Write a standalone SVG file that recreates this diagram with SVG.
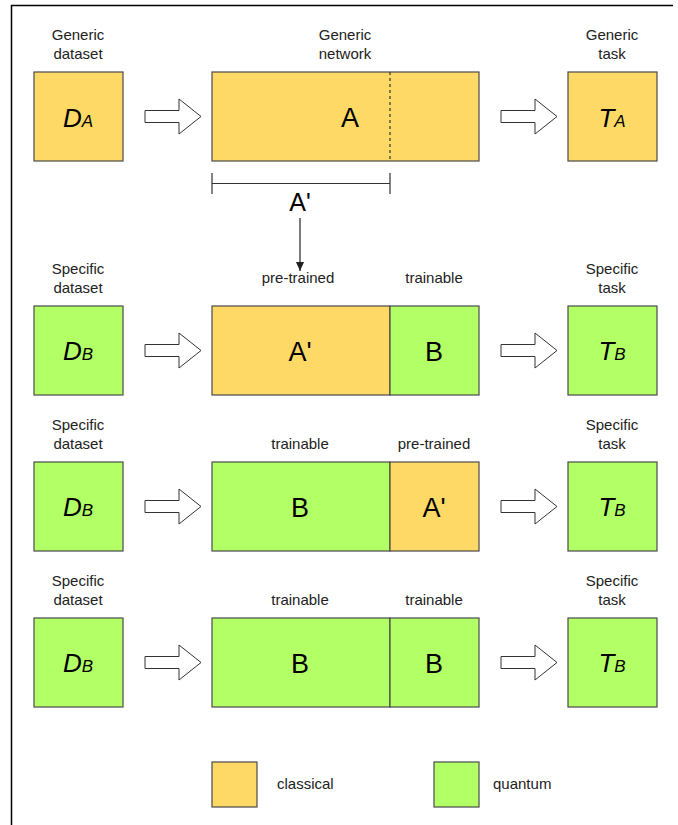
<svg xmlns="http://www.w3.org/2000/svg" width="678" height="825" viewBox="0 0 678 825">
<defs>
<style>
.cl{fill:#FFD966;stroke:#4a4a4a;stroke-width:1.2}
.qu{fill:#B3FF66;stroke:#4a4a4a;stroke-width:1.2}
.lbl{font-family:"Liberation Sans",Arial,sans-serif;font-size:15px;fill:#222;text-anchor:middle}
.big{font-family:"Liberation Sans",Arial,sans-serif;font-size:27px;fill:#000;text-anchor:middle}
.sym{font-family:"Liberation Sans",Arial,sans-serif;font-style:italic;font-size:26px;fill:#000;text-anchor:middle}
.sub{font-size:17px}
.blk{fill:#fff;stroke:#333;stroke-width:1}
.ln{stroke:#333;stroke-width:1.2;fill:none}
</style>
<path id="barrow" d="M0,-6 L34,-6 L34,-17.5 L56,0 L34,17.5 L34,6 L0,6 Z"/>
<marker id="ah" markerWidth="10" markerHeight="10" refX="9" refY="5" orient="auto" markerUnits="userSpaceOnUse">
<path d="M0,1 L9,5 L0,9 Z" fill="#222"/>
</marker>
</defs>
<rect width="678" height="825" fill="#fff"/>
<path d="M11.5,825 L11.5,5.5 L673,5.5" fill="none" stroke="#000" stroke-width="1.5"/>

<!-- Row 1 -->
<g id="DA">
<text class="lbl" x="78" y="40">Generic</text>
<text class="lbl" x="78" y="59">dataset</text>
<rect class="cl" x="34" y="72" width="89" height="89"/>
<text class="sym" x="78" y="127">D<tspan class="sub">A</tspan></text>
</g>
<g id="netA">
<text class="lbl" x="345" y="40">Generic</text>
<text class="lbl" x="345" y="59">network</text>
<rect class="cl" x="212" y="72" width="267" height="89"/>
<line x1="390" y1="72" x2="390" y2="161" stroke="#333" stroke-width="1.2" stroke-dasharray="3,3"/>
<text class="big" x="350" y="127">A</text>
</g>
<g id="TA">
<text class="lbl" x="612" y="40">Generic</text>
<text class="lbl" x="612" y="59">task</text>
<rect class="cl" x="568" y="72" width="89" height="89"/>
<text class="sym" x="612" y="127">T<tspan class="sub">A</tspan></text>
</g>
<g id="Aprime">
<path class="ln" d="M212,183.5 L390,183.5 M212,173 L212,194 M390,173 L390,194"/>
<text class="big" x="300" y="211" style="font-size:25px">A'</text>
</g>

<!-- Row 2 -->
<g id="DB1">
<text class="lbl" x="78" y="274">Specific</text>
<text class="lbl" x="78" y="293">dataset</text>
<rect class="qu" x="34" y="306" width="89" height="89"/>
<text class="sym" x="78" y="360">D<tspan class="sub">B</tspan></text>
</g>
<g id="net1">
<text class="lbl" x="298" y="283">pre-trained</text>
<text class="lbl" x="434" y="283">trainable</text>
<rect class="cl" x="212" y="306" width="178" height="89"/>
<rect class="qu" x="390" y="306" width="89" height="89"/>
<text class="big" x="300" y="361">A'</text>
<text class="big" x="434" y="361">B</text>
</g>
<g id="TB1">
<text class="lbl" x="612" y="274">Specific</text>
<text class="lbl" x="612" y="293">task</text>
<rect class="qu" x="568" y="306" width="89" height="89"/>
<text class="sym" x="612" y="360">T<tspan class="sub">B</tspan></text>
</g>

<!-- Row 3 -->
<g id="DB2">
<text class="lbl" x="78" y="430">Specific</text>
<text class="lbl" x="78" y="449">dataset</text>
<rect class="qu" x="34" y="462" width="89" height="89"/>
<text class="sym" x="78" y="516">D<tspan class="sub">B</tspan></text>
</g>
<g id="net2">
<text class="lbl" x="300" y="449">trainable</text>
<text class="lbl" x="434" y="449">pre-trained</text>
<rect class="qu" x="212" y="462" width="178" height="89"/>
<rect class="cl" x="390" y="462" width="89" height="89"/>
<text class="big" x="300" y="517">B</text>
<text class="big" x="434" y="517">A'</text>
</g>
<g id="TB2">
<text class="lbl" x="612" y="430">Specific</text>
<text class="lbl" x="612" y="449">task</text>
<rect class="qu" x="568" y="462" width="89" height="89"/>
<text class="sym" x="612" y="516">T<tspan class="sub">B</tspan></text>
</g>

<!-- Row 4 -->
<g id="DB3">
<text class="lbl" x="78" y="586">Specific</text>
<text class="lbl" x="78" y="605">dataset</text>
<rect class="qu" x="34" y="618" width="89" height="89"/>
<text class="sym" x="78" y="672">D<tspan class="sub">B</tspan></text>
</g>
<g id="net3">
<text class="lbl" x="300" y="605">trainable</text>
<text class="lbl" x="434" y="605">trainable</text>
<rect class="qu" x="212" y="618" width="178" height="89"/>
<rect class="qu" x="390" y="618" width="89" height="89"/>
<text class="big" x="300" y="673">B</text>
<text class="big" x="434" y="673">B</text>
</g>
<g id="TB3">
<text class="lbl" x="612" y="586">Specific</text>
<text class="lbl" x="612" y="605">task</text>
<rect class="qu" x="568" y="618" width="89" height="89"/>
<text class="sym" x="612" y="672">T<tspan class="sub">B</tspan></text>
</g>

<!-- Legend -->
<g id="legend-classical">
<rect class="cl" x="212" y="762" width="45" height="45"/>
<text class="lbl" x="277" y="789" style="text-anchor:start">classical</text>
</g>
<g id="legend-quantum">
<rect class="qu" x="434" y="762" width="45" height="45"/>
<text class="lbl" x="493" y="789" style="text-anchor:start">quantum</text>
</g>

<!-- Connectors -->
<g id="connectors">
<use href="#barrow" class="blk" x="145" y="116.5"/>
<use href="#barrow" class="blk" x="501" y="116.5"/>
<use href="#barrow" class="blk" x="145" y="350.5"/>
<use href="#barrow" class="blk" x="501" y="350.5"/>
<use href="#barrow" class="blk" x="145" y="506.5"/>
<use href="#barrow" class="blk" x="501" y="506.5"/>
<use href="#barrow" class="blk" x="145" y="662.5"/>
<use href="#barrow" class="blk" x="501" y="662.5"/>
<line x1="300" y1="218" x2="300" y2="271" stroke="#222" stroke-width="1.2" marker-end="url(#ah)"/>
</g>
</svg>
